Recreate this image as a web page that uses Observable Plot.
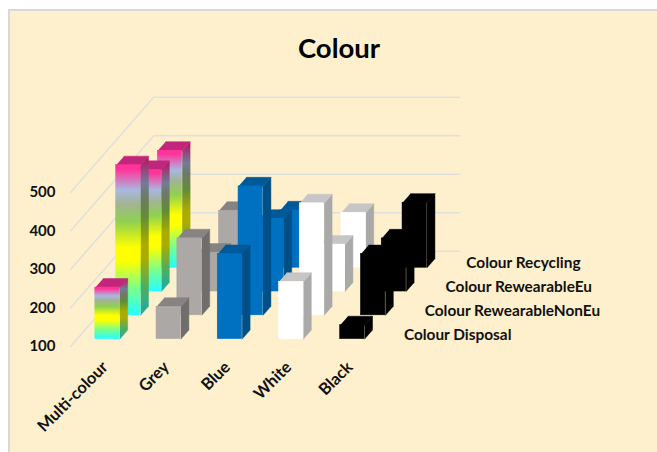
<!DOCTYPE html>
<html>
<head>
<meta charset="utf-8">
<title>Colour</title>
<style>
  html, body { margin: 0; padding: 0; background: #fff; width: 657px; height: 452px; overflow: hidden; }
  #panel { position: absolute; left: 8px; top: 9px; right: 0; bottom: 0; box-sizing: border-box;
           background: #fef0cd; border-left: 2px solid #d9d9d9; border-top: 2px solid #d9d9d9; }
  #chart { position: absolute; left: 0; top: 0; }
</style>
<script src="https://cdn.jsdelivr.net/npm/d3@7"></script>
<script src="https://cdn.jsdelivr.net/npm/@observablehq/plot@0.6"></script>
</head>
<body>
<div id="panel"></div>
<div id="chart"></div>
<script>
// Tonnes per colour, one list per treatment route (front row first).
const categories = ["Multi-colour", "Grey", "Blue", "White", "Black"];
const seriesNames = ["Colour Disposal", "Colour RewearableNonEu", "Colour RewearableEu", "Colour Recycling"];
const colourDisposal = [234, 184, 321, 249, 136];
const colourRewearableNonEu = [490, 300, 435, 391, 259];
const colourRewearableEu = [416, 201, 289, 222, 238];
const colourRecycling = [404, 248, 249, 243, 269];
const seriesValues = [colourDisposal, colourRewearableNonEu, colourRewearableEu, colourRecycling];
const valueTicks = [100, 200, 300, 400, 500];
const baseValue = 100;

// Oblique projection: one row of depth shifts a point right and up.
const skewX = 0.34;    // category slots per depth row
const skewY = 61.8;    // value units per depth row
const barWidth = 0.4;  // share of a category slot
const barDepth = 0.38; // share of a depth row
const project = (c, d, v) => ({x: c + skewX * d, y: v + skewY * d});

// Face fills per category: [front, side, top]
const faceFills = [
  ["url(#rainbowFront)", "url(#rainbowSide)", "#c2267c"],
  ["#aca8a6", "#6f6e6d", "#868382"],
  ["#0070c0", "#004f87", "#005a99"],
  ["#ffffff", "#a9a9a9", "#c6c6c6"],
  ["#000000", "#000000", "#000000"]
];

const gradientStops = [
  [0, "#22ffff"], [0.18, "#7dff88"], [0.36, "#ffff00"], [0.45, "#ffff00"],
  [0.62, "#8fd14f"], [0.74, "#a3b394"], [0.83, "#a8b8e0"], [0.97, "#ff3399"], [1, "#ff3399"]
];
const darken = (hex) => d3.rgb(hex).darker(1.1).formatHex();
const gradient = (id, shade) =>
  `<linearGradient id="${id}" x1="0" y1="1" x2="0" y2="0">` +
  gradientStops.map(([o, c]) => `<stop offset="${o}" stop-color="${shade(c)}"/>`).join("") +
  `</linearGradient>`;

// Gradient definitions used by the multi-colour bars.
function gradientDefs(index, scales, values, dimensions, context) {
  const defs = context.document.createElementNS("http://www.w3.org/2000/svg", "defs");
  defs.innerHTML = gradient("rainbowFront", (c) => c) + gradient("rainbowSide", darken);
  return defs;
}

// One face list per row, so that rows can be painted from back to front.
function rowFaces(row) {
  const d0 = row + (1 - barDepth) / 2, d1 = d0 + barDepth;
  const fronts = [], sides = [], tops = [];
  seriesValues[row].forEach((value, cat) => {
    const c0 = cat + (1 - barWidth) / 2, c1 = c0 + barWidth;
    const [front, side, top] = faceFills[cat];
    const a = project(c0, d0, baseValue), b = project(c1, d0, value);
    fronts.push({x1: a.x, x2: b.x, y1: a.y, y2: b.y, fill: front});
    [[c1, d0, baseValue], [c1, d1, baseValue], [c1, d1, value], [c1, d0, value]]
      .forEach((p) => sides.push({...project(...p), cat, fill: side}));
    [[c0, d0, value], [c1, d0, value], [c1, d1, value], [c0, d1, value]]
      .forEach((p) => tops.push({...project(...p), cat, fill: top}));
  });
  return {fronts, sides, tops};
}

const rows = seriesNames.length, slots = categories.length;

// Left wall and back wall gridlines.
const gridlines = valueTicks.flatMap((v) =>
  [[0, 0, v], [0, rows, v], [slots, rows, v]].map((p) => ({...project(...p), tick: v}))
);

const barMarks = d3.range(rows - 1, -1, -1).flatMap((row) => {
  const {fronts, sides, tops} = rowFaces(row);
  const face = {x: "x", y: "y", z: "cat", fill: "fill", stroke: "fill", strokeWidth: 0.5};
  return [
    Plot.line(sides, face),
    Plot.line(tops, face),
    Plot.rect(fronts, {x1: "x1", x2: "x2", y1: "y1", y2: "y2", fill: "fill", stroke: "fill", strokeWidth: 0.5})
  ];
});

const labelFont = {fontFamily: "Lato, 'Open Sans', sans-serif", fontWeight: 700, fill: "#111"};

const chart = Plot.plot({
  width: 657,
  height: 452,
  margin: 0,
  style: {background: "transparent"},
  x: {domain: [0, 389 / 61.2], range: [70, 459], axis: null},
  y: {domain: [baseValue, baseValue + 249 / 0.385 ], range: [346, 346 - 249], axis: null},
  color: {type: "identity"},
  marks: [
    gradientDefs,
    Plot.line(gridlines, {x: "x", y: "y", z: "tick", stroke: "#dfdfdc", strokeWidth: 1.5}),
    ...barMarks,
    // Value axis labels at the front of the left wall
    Plot.text(valueTicks, {
      x: () => 0, y: (d) => d, text: (d) => String(d), textAnchor: "end", dx: -15,
      fontSize: 15, ...labelFont
    }),
    // Category labels
    Plot.text(categories, {
      x: (d, i) => i + 0.5, y: () => baseValue, text: (d) => d, textAnchor: "end",
      rotate: -45, dx: 4, dy: 18, fontSize: 16.4, ...labelFont
    }),
    // Series labels along the right edge of the floor
    Plot.text(seriesNames, {
      x: (d, i) => project(slots, i + 0.5, baseValue).x,
      y: (d, i) => project(slots, i + 0.5, baseValue).y,
      text: (d) => d, textAnchor: "start", dx: 17,
      fontSize: 15.4, ...labelFont
    }),
    // Chart title
    Plot.text(["Colour"], {
      frameAnchor: "top", text: (d) => d, dx: 10, dy: 38,
      fontSize: 27.5, ...labelFont, fill: "#000"
    })
  ]
});
document.getElementById("chart").append(chart);
</script>
</body>
</html>
